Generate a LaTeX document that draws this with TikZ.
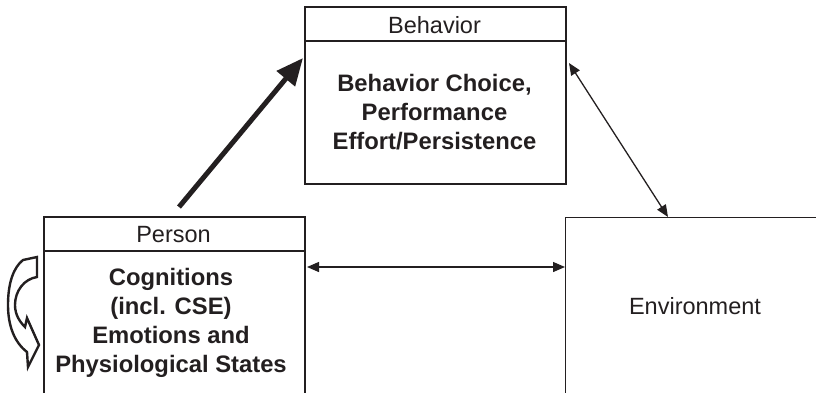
\documentclass[tikz,border=0pt]{standalone}
\usepackage{fontspec}
\setmainfont{Liberation Sans}
\usetikzlibrary{arrows.meta,calc}
\definecolor{ink}{HTML}{231F20}
\begin{document}
\begin{tikzpicture}[x=1bp,y=-1bp,
  every node/.style={text=ink},
  panel/.style={draw=ink, line width=2bp, anchor=north west, inner sep=0pt},
  titletext/.style={anchor=base, font=\fontsize{23.5bp}{29bp}\selectfont},
  bodytext/.style={align=center, font=\fontsize{23.8bp}{29bp}\selectfont\bfseries},
  bigarrow/.style={draw=ink, line width=5bp, -{Triangle[length=27bp,width=23bp]}},
  twoway/.style={draw=ink, line width=1.3bp, {Triangle[length=12bp,width=10bp]}-{Triangle[length=12bp,width=10bp]}},
  loopshape/.style={draw=ink, fill=white, line width=2.4bp, line join=miter}
]
\useasboundingbox (0,0) rectangle (816,392);
\clip (0,0) rectangle (816,392);

% Behavior box with its title band
\node[panel, minimum width=261bp, minimum height=177bp] (behavior) at (304,6) {};
\draw[ink, line width=1.3bp] ([yshift=-35bp]behavior.north west) -- ([yshift=-35bp]behavior.north east);
\node[titletext] (behaviortitle) at (434.5,33) {Behavior};
\node[bodytext] (behaviortext) at (434.5,112) {Behavior Choice,\\Performance\\Effort/Persistence};

% Person box (runs past the lower edge)
\node[panel, minimum width=261bp, minimum height=220bp] (person) at (43,216) {};
\draw[ink, line width=1.3bp] ([yshift=-35bp]person.north west) -- ([yshift=-35bp]person.north east);
\node[titletext] (persontitle) at (173.5,242) {Person};
\node[bodytext] (persontext) at (171,323) {Cognitions\\(incl. CSE)\\Emotions and\\Physiological States};

% Environment box (runs past the lower and right edges)
\node[panel, line width=1.1bp, minimum width=261bp, minimum height=220bp] (environment) at (565,217) {};
\node[titletext] (environmenttext) at (695,314) {Environment};

% Connectors
\draw[bigarrow] ([xshift=136bp,yshift=9bp]person.north west) -- ([xshift=-1bp,yshift=-52bp]behavior.north west);
\draw[twoway] ([xshift=2bp,yshift=-57bp]behavior.north east) -- ([xshift=103bp]environment.north west);
\draw[twoway] ([xshift=1bp,yshift=-51bp]person.north east) -- ([yshift=-50bp]environment.north west);

% Hollow curved arrow beside the Person box
\draw[loopshape] (23,260) -- (37,257) -- (37,277)
  .. controls (24,279) and (15,291) .. (15,305)
  .. controls (15,315) and (20,322) .. (25,327)
  -- (27,318) -- (39,345) -- (28,367) -- (27,352)
  .. controls (14,342) and (8,325) .. (8,305)
  .. controls (8,282) and (14,267) .. (23,260) -- cycle;
\end{tikzpicture}
\end{document}
